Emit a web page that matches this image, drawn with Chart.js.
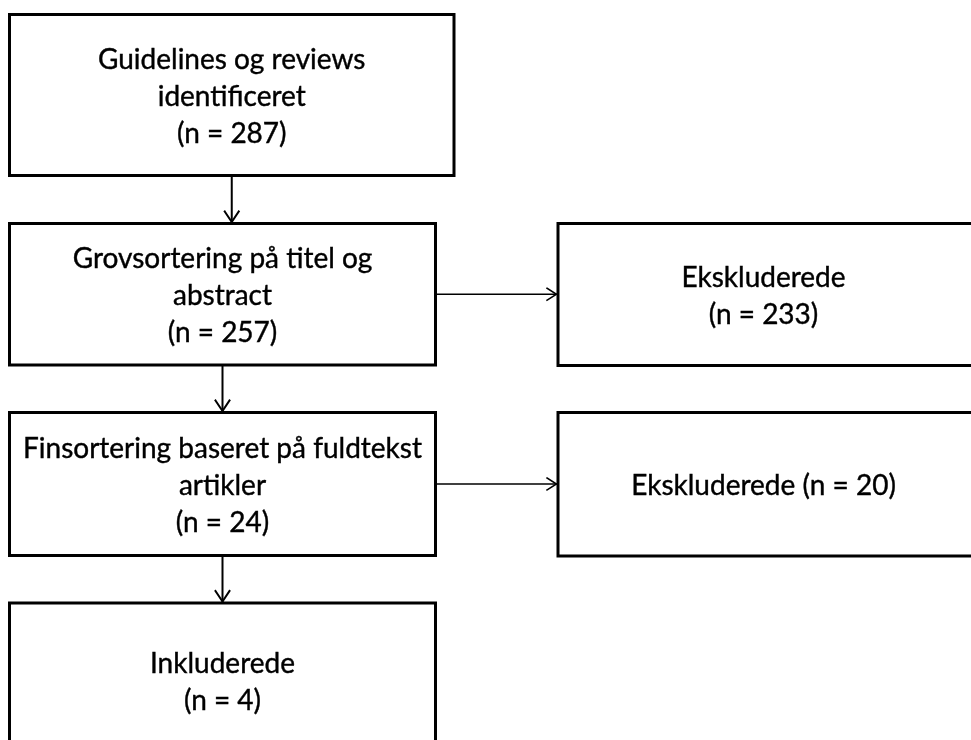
<!DOCTYPE html>
<html lang="da">
<head>
<meta charset="UTF-8">
<title>Flowdiagram</title>
<script src="https://cdn.jsdelivr.net/npm/chart.js"></script>
<style>
  html, body { margin:0; padding:0; background:#fff; }
  #wrap { width:971px; height:740px; position:relative; }
</style>
</head>
<body>
<div id="wrap"><canvas id="flow"></canvas></div>
<script>
// data
const stageNames = [
  ['Guidelines og reviews', 'identificeret'],
  ['Grovsortering på titel og', 'abstract'],
  ['Finsortering baseret på fuldtekst', 'artikler'],
  ['Inkluderede']
];
const stageCounts = [287, 257, 24, 4];
const excludedNames = ['Ekskluderede', 'Ekskluderede'];
const excludedCounts = [233, 20];
const excludedFrom = [1, 2];          // which stage each exclusion branches off

// layout (axis units)
const stageBoxes = [
  { x0: 9.5, x1: 454,   y0: 14.5,  y1: 175.5 },
  { x0: 9.5, x1: 435.5, y0: 223.5, y1: 365 },
  { x0: 9.5, x1: 435.5, y0: 412.5, y1: 555.5 },
  { x0: 9.5, x1: 435.5, y0: 603,   y1: 758 }
];
const excludedBoxes = [
  { x0: 558, x1: 990, y0: 223.5, y1: 365.5, inline: false },
  { x0: 558, x1: 990, y0: 412.5, y1: 556,   inline: true }
];
const LINE_H = 37;
const FONT = '28px Lato';

function boxPath(b) {
  return [
    { x: b.x0, y: b.y0 }, { x: b.x1, y: b.y0 },
    { x: b.x1, y: b.y1 }, { x: b.x0, y: b.y1 }, { x: b.x0, y: b.y0 }
  ];
}
function lineSet(data, width) {
  return {
    data, showLine: true, borderColor: '#000', borderWidth: width,
    pointRadius: 0, borderJoinStyle: 'miter', borderCapStyle: 'square', tension: 0
  };
}

const datasets = [];
stageBoxes.forEach(b => datasets.push(lineSet(boxPath(b), 3)));
excludedBoxes.forEach(b => datasets.push(lineSet(boxPath(b), 3)));

// vertical arrows between stages
for (let i = 0; i < stageBoxes.length - 1; i++) {
  const a = stageBoxes[i], b = stageBoxes[i + 1];
  const cx = (a.x0 + a.x1) / 2;
  datasets.push(lineSet([{ x: cx, y: a.y1 }, { x: cx, y: b.y0 - 1 }], 2));
  datasets.push(lineSet([{ x: cx - 7, y: b.y0 - 12 }, { x: cx, y: b.y0 - 1.5 }, { x: cx + 7, y: b.y0 - 12 }], 2));
}
// horizontal arrows to exclusions
excludedBoxes.forEach((e, i) => {
  const s = stageBoxes[excludedFrom[i]];
  const cy = (s.y0 + s.y1) / 2;
  datasets.push(lineSet([{ x: s.x1, y: cy }, { x: e.x0 - 1, y: cy }], 1.5));
  datasets.push(lineSet([{ x: e.x0 - 11, y: cy - 6 }, { x: e.x0 - 1.5, y: cy }, { x: e.x0 - 11, y: cy + 6 }], 1.5));
});

const boxText = {
  id: 'boxText',
  afterDatasetsDraw(chart) {
    const { ctx, scales: { x, y } } = chart;
    const items = [];
    stageBoxes.forEach((b, i) => items.push({ b, lines: [...stageNames[i], `(n = ${stageCounts[i]})`] }));
    excludedBoxes.forEach((b, i) => {
      const n = `(n = ${excludedCounts[i]})`;
      items.push({ b, lines: b.inline ? [`${excludedNames[i]} ${n}`] : [excludedNames[i], n] });
    });
    ctx.save();
    ctx.font = FONT;
    ctx.fillStyle = '#000';
    ctx.strokeStyle = '#000';
    ctx.lineWidth = 0.4;
    ctx.textAlign = 'center';
    ctx.textBaseline = 'middle';
    items.forEach(({ b, lines }) => {
      const cx = x.getPixelForValue((b.x0 + Math.min(b.x1, 969)) / 2);
      const cy = y.getPixelForValue((b.y0 + b.y1) / 2) + 1.5;
      const top = cy - (lines.length - 1) * LINE_H / 2;
      lines.forEach((t, k) => {
        ctx.fillText(t, cx, top + k * LINE_H);
        ctx.strokeText(t, cx, top + k * LINE_H);
      });
    });
    ctx.restore();
  }
};

new Chart(document.getElementById('flow'), {
  type: 'scatter',
  data: { datasets },
  options: {
    responsive: true,
    maintainAspectRatio: false,
    animation: false,
    layout: { padding: 0 },
    plugins: { legend: { display: false }, tooltip: { enabled: false } },
    scales: {
      x: { type: 'linear', min: 0, max: 971, display: false },
      y: { type: 'linear', min: 0, max: 740, reverse: true, display: false }
    }
  },
  plugins: [boxText]
});
</script>
</body>
</html>
